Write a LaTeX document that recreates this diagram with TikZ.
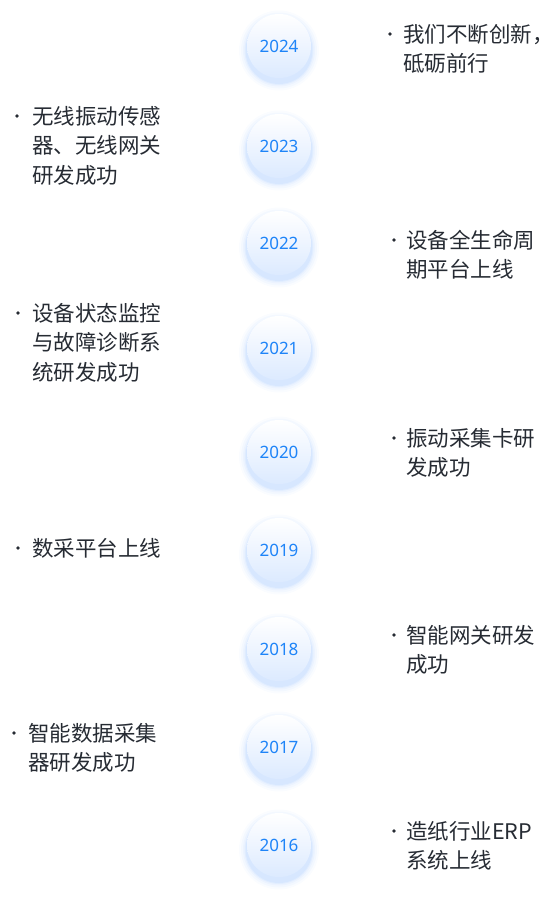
\documentclass[tikz,border=0pt]{standalone}
\usepackage{fontspec}
\setmainfont{Noto Sans}
\newfontfamily\cjk{Noto Sans CJK SC}
\usetikzlibrary{positioning}
\definecolor{yearblue}{HTML}{1E84F8}
\definecolor{glowblue}{HTML}{9CC4FF}
\definecolor{disktop}{HTML}{FFFFFF}
\definecolor{diskbot}{HTML}{DCEAFF}
\definecolor{itemgray}{HTML}{262B33}
\tikzset{
  yearnode/.style={circle,minimum size=64pt,inner sep=0pt,
    top color=disktop,bottom color=diskbot,
    font=\fontsize{17}{17}\selectfont,text=yearblue},
  itemtext/.style={anchor=base west,inner sep=0pt,align=left,text=itemgray,
    font=\cjk\fontsize{21.5}{29.3}\selectfont},
  dotmark/.style={circle,fill=itemgray,inner sep=0pt,minimum size=3.8pt}
}
\begin{document}
\begin{tikzpicture}[x=1pt,y=-1pt]
\useasboundingbox (0,0) rectangle (557,905);
% year disks with a soft blue glow underneath
\foreach \yr/\yy in {2024/46,2023/146,2022/243,2021/348,2020/452,2019/550,2018/649,2017/747,2016/845}{
  \foreach \rr/\op in {40/0.05,38/0.07,36/0.09,34.5/0.12,33.5/0.15}
    \fill[glowblue,opacity=\op] (279,\yy+4.5) circle (\rr);
  \node[yearnode] (y\yr) at (279,\yy) {\yr};
}
% milestones, right column (placed by the last line's baseline)
\node[itemtext] (t2024) at (403,71.5) {我们不断创新，\\砥砺前行};
\node[dotmark] (d2024) at (390,34) {};
\node[itemtext] (t2022) at (406,277.5) {设备全生命周\\期平台上线};
\node[dotmark] (d2022) at (394,240) {};
\node[itemtext] (t2020) at (406,475.5) {振动采集卡研\\发成功};
\node[dotmark] (d2020) at (394,438) {};
\node[itemtext] (t2018) at (406,672.5) {智能网关研发\\成功};
\node[dotmark] (d2018) at (394,635) {};
\node[itemtext] (t2016) at (406,868.5) {造纸行业ERP\\系统上线};
\node[dotmark] (d2016) at (394,831) {};
% milestones, left column
\node[itemtext] (t2023) at (32,183) {无线振动传感\\器、无线网关\\研发成功};
\node[dotmark] (d2023) at (17,116) {};
\node[itemtext] (t2021) at (32,380) {设备状态监控\\与故障诊断系\\统研发成功};
\node[dotmark] (d2021) at (18,313) {};
\node[itemtext] (t2019) at (32,556.5) {数采平台上线};
\node[dotmark] (d2019) at (18,548) {};
\node[itemtext] (t2017) at (28,770.5) {智能数据采集\\器研发成功};
\node[dotmark] (d2017) at (14,733) {};
\end{tikzpicture}
\end{document}
